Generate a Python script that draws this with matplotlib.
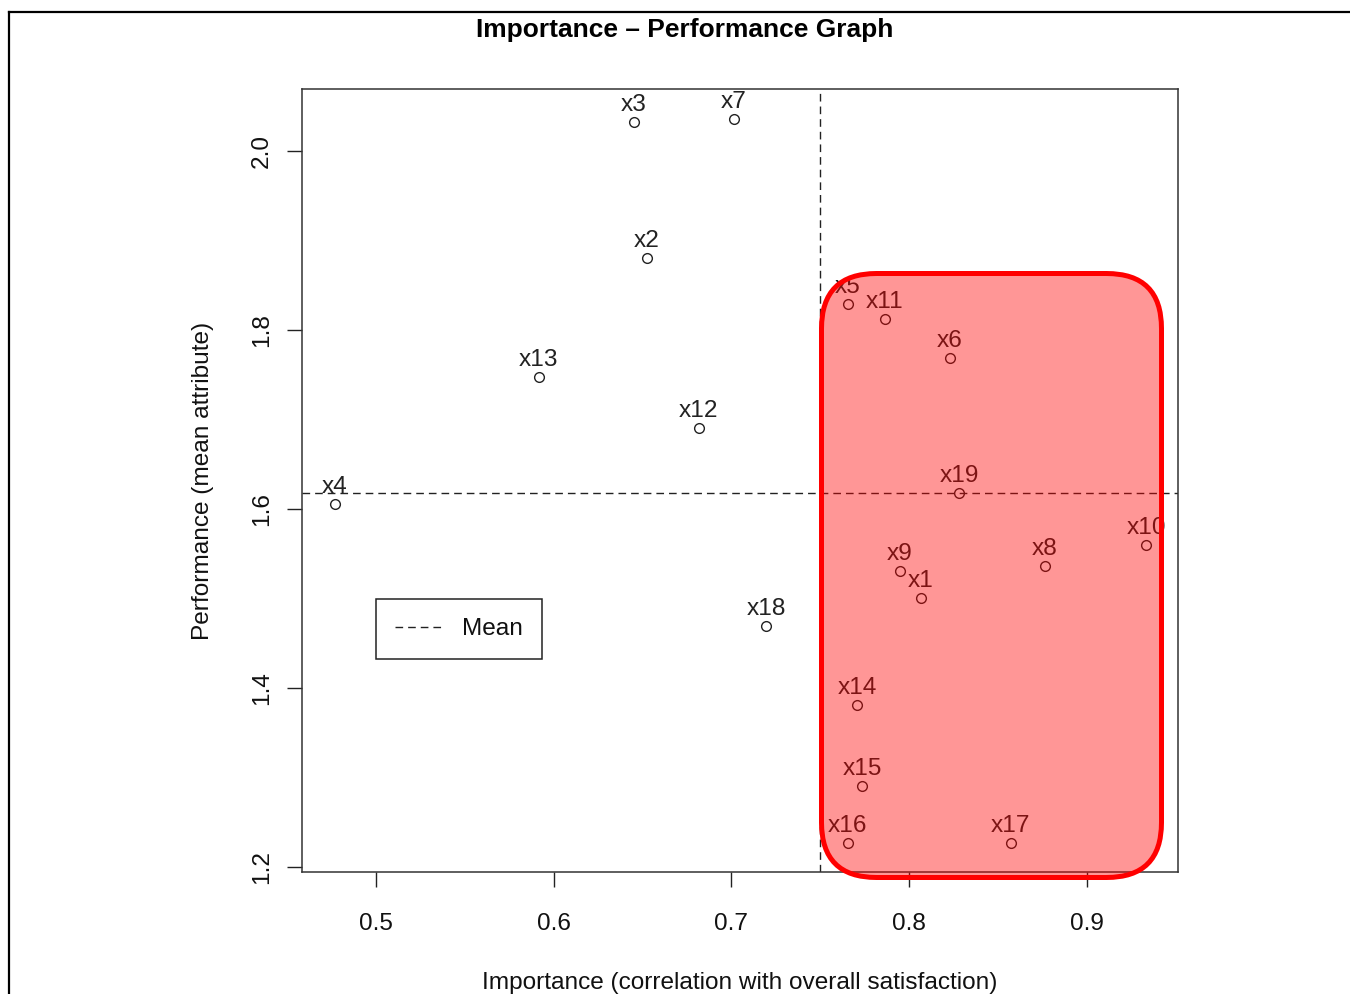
import matplotlib
matplotlib.use("Agg")
import matplotlib.pyplot as plt
from matplotlib.patches import FancyBboxPatch
from matplotlib.lines import Line2D
from matplotlib.transforms import offset_copy

plt.rcParams['font.family'] = ['Liberation Sans', 'DejaVu Sans']

# ---- data ----
labels = ["x1", "x2", "x3", "x4", "x5", "x6", "x7", "x8", "x9", "x10",
          "x11", "x12", "x13", "x14", "x15", "x16", "x17", "x18", "x19"]
importance = [0.8066, 0.6525, 0.6452, 0.4769, 0.7655, 0.8229, 0.7014, 0.8764, 0.7948, 0.9332,
              0.7864, 0.6817, 0.5917, 0.7706, 0.7734, 0.7655, 0.8572, 0.7194, 0.8280]
performance = [1.5006, 1.8800, 2.0324, 1.6056, 1.8290, 1.7687, 2.0360, 1.5363, 1.5307, 1.5598,
               1.8123, 1.6905, 1.7475, 1.3810, 1.2905, 1.2268, 1.2268, 1.4690, 1.6179]
mean_importance = 0.75
mean_performance = 1.618
xticks = [0.5, 0.6, 0.7, 0.8, 0.9]
yticks = [1.2, 1.4, 1.6, 1.8, 2.0]

W, H = 1350, 994
fig = plt.figure(figsize=(W / 100, H / 100), dpi=100)
fig.patch.set_facecolor("white")

# axes placed in pixel terms
L, R, T, B = 302, 1178, 89, 872
ax = fig.add_axes([L / W, (H - B) / H, (R - L) / W, (B - T) / H])

FS = 17.6

ax.plot(importance, performance, linestyle="none", marker="o", ms=7, mfc="none",
        mec="#222222", mew=1.0, zorder=3)

dash = (0, (5.5, 3.6))
ax.axvline(mean_importance, color="#222222", lw=1.0, linestyle=dash, zorder=2)
ax.axhline(mean_performance, color="#222222", lw=1.0, linestyle=dash, zorder=2, label="Mean")

tr = offset_copy(ax.transData, fig=fig, x=0, y=17, units="dots")
for lab, xv, yv in zip(labels, importance, performance):
    ax.text(xv, yv, lab, transform=tr, ha="center", va="center", fontsize=FS,
            color="#222222", clip_on=True, zorder=3)

ax.set_xlim(0.4584, 0.9512)
ax.set_ylim(1.1944, 2.0693)
ax.set_xticks(xticks)
ax.set_xticklabels([f"{v:.1f}" for v in xticks])
ax.set_yticks(yticks)
ax.set_yticklabels([f"{v:.1f}" for v in yticks])
ax.tick_params(axis="both", direction="out", length=10.8, width=1.0, colors="#222222",
               labelsize=FS, labelcolor="#111111")
ax.tick_params(axis="x", pad=18.5)
ax.tick_params(axis="y", pad=10)
for t in ax.get_yticklabels():
    t.set_rotation(90)
    t.set_va("center")
for s in ax.spines.values():
    s.set_color("#333333")
    s.set_linewidth(1.1)

ax.set_xlabel("Importance (correlation with overall satisfaction)", fontsize=FS, color="#111111")
ax.xaxis.set_label_coords(0.5, (B - 983) / (B - T))
ax.xaxis.label.set_va("center")
ax.set_ylabel("Performance (mean attribute)", fontsize=FS, color="#111111")
ax.yaxis.set_label_coords((203 - L) / (R - L), 0.5)
ax.yaxis.label.set_va("center")

leg = ax.legend(loc="upper left", bbox_to_anchor=((376 - L) / (R - L), (B - 599) / (B - T)),
                borderaxespad=0, fontsize=FS, frameon=True, fancybox=False,
                edgecolor="#222222", framealpha=1, handlelength=1.9, handletextpad=0.85,
                borderpad=0.78)
leg.get_frame().set_linewidth(1.1)
for txt in leg.get_texts():
    txt.set_color("#111111")

# highlighted quadrant box (axes coordinates)
bx0 = (821.5 - L) / (R - L)
bx1 = (1161.5 - L) / (R - L)
by0 = (B - 877.5) / (B - T)
by1 = (B - 273.5) / (B - T)
rad = 55 / (R - L)
box = FancyBboxPatch((bx0, by0), bx1 - bx0, by1 - by0,
                     boxstyle=f"round,pad=0,rounding_size={rad}",
                     mutation_aspect=(R - L) / (B - T),
                     transform=ax.transAxes, facecolor=(1, 0, 0, 0.41),
                     edgecolor="#ff0000", linewidth=3.6, clip_on=False, zorder=6)
ax.add_patch(box)

# title
fig.text(684.5 / W, 1 - 30 / H, "Importance \u2013 Performance Graph", ha="center", va="center",
         fontsize=19.0, fontweight="bold", color="black")

# outer frame lines
fig.add_artist(Line2D([9 / W, 1.0], [1 - 12 / H, 1 - 12 / H], transform=fig.transFigure,
                      color="black", lw=1.6))
fig.add_artist(Line2D([9 / W, 9 / W], [0, 1 - 12 / H], transform=fig.transFigure,
                      color="black", lw=1.6))

fig.savefig("out.png", dpi=100)
